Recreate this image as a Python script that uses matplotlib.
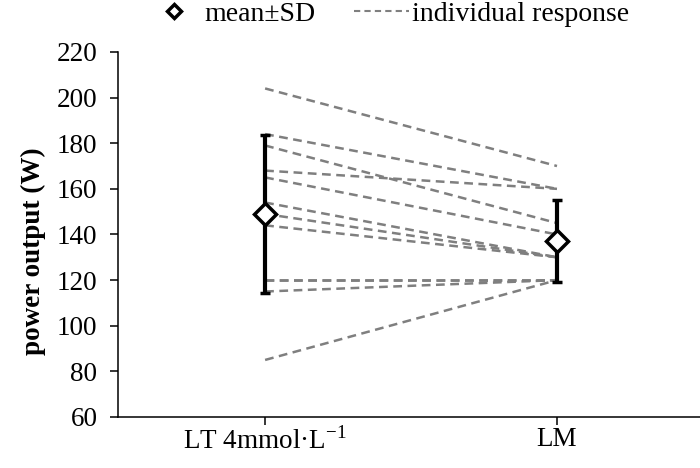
import numpy as np
import matplotlib
matplotlib.use("Agg")
import matplotlib.pyplot as plt
from matplotlib.lines import Line2D

plt.rcParams['font.family'] = ['Liberation Serif', 'DejaVu Serif']
plt.rcParams['mathtext.fontset'] = 'custom'
plt.rcParams['mathtext.rm'] = 'Liberation Serif'

# conditions on the x axis
conditions = ["LT 4mmol\u00b7L$^{-1}$", "LM"]

# individual power output (W), one pair per subject
lt4_power = [204, 184, 179, 168, 165, 154, 149, 144, 120, 120, 115, 85]
lm_power = [170, 160, 145, 160, 140, 130, 130, 130, 120, 120, 120, 120]

# group mean and SD
group_mean = [149, 137]
group_sd = [34.5, 18]

fig = plt.figure(figsize=(7, 4.68), dpi=100)
ax = fig.add_axes([0.169, 0.109, 0.831, 0.78])

xpos = np.arange(len(conditions))

for a, b in zip(lt4_power, lm_power):
    ax.plot(xpos, [a, b], color='#7f7f7f', lw=1.8, ls=(0, (3.5, 2.2)), zorder=1)

ax.errorbar(xpos, group_mean, yerr=group_sd, fmt='D', color='black',
            mfc='white', mec='black', mew=2.5, ms=11.5, ecolor='black',
            elinewidth=3, capsize=3.5, capthick=3, zorder=3)

ax.set_xlim(-0.503, 1.49)
ax.set_ylim(60, 220)
ax.set_yticks(np.arange(60, 221, 20))
ax.set_xticks(xpos)
ax.set_xticklabels(conditions)

for s in ['top', 'right']:
    ax.spines[s].set_visible(False)
for s in ['left', 'bottom']:
    ax.spines[s].set_linewidth(1.1)

ax.tick_params(axis='both', direction='out', length=6, width=1.1,
               labelsize=19.5, colors='black')
ax.tick_params(axis='y', pad=9)
ax.tick_params(axis='x', pad=1)

ax.set_ylabel("power output (W)", fontsize=19.5, fontweight='bold')
ax.yaxis.set_label_coords(-0.125, 0.455)

handles = [
    Line2D([], [], ls='none', marker='D', mfc='white', mec='black', mew=2.5, ms=7),
    Line2D([], [], color='#7f7f7f', lw=1.5, ls=(0, (3, 2))),
]
fig.legend(handles, ["mean\u00b1SD", "individual response"], ncol=2,
           frameon=False, fontsize=20, loc='center',
           bbox_to_anchor=(0.554, 0.97), handlelength=2.0,
           handletextpad=0.1, columnspacing=1.37)

fig.savefig("out.png", dpi=100)
